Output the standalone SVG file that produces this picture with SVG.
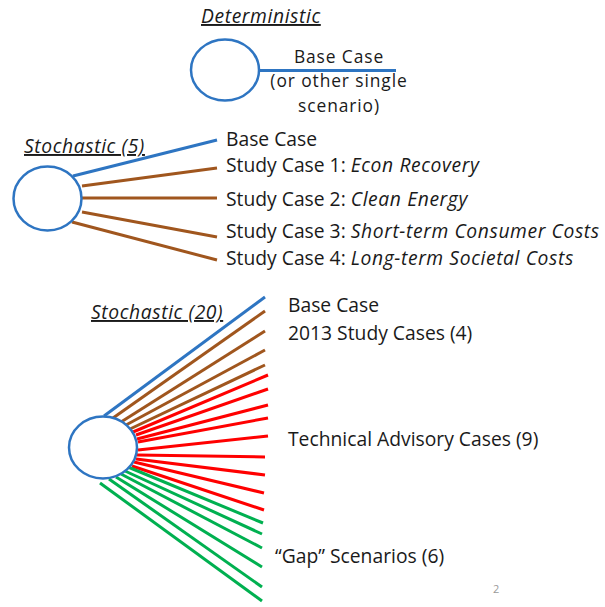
<svg xmlns="http://www.w3.org/2000/svg" width="605" height="607" viewBox="0 0 605 607">
  <style>
    .bg { fill: #ffffff; }
    .node { fill: #ffffff; stroke: #2E75C2; stroke-width: 2.5; }
    .lbl { font-family: "Open Sans", "Liberation Sans", sans-serif; font-size: 19.3px; fill: #1a1a1a; }
    .stack { font-size: 17.4px; letter-spacing: 0.9px; }
    .em { font-style: italic; letter-spacing: 0.6px; }
    .title { font-family: "Open Sans", "Liberation Sans", sans-serif; font-size: 19.3px; font-style: italic; letter-spacing: 0.6px; fill: #1a1a1a; text-decoration: underline; }
    .pg { font-family: "Open Sans", "Liberation Sans", sans-serif; font-size: 11px; fill: #9a9a9a; }
    .c { fill: none; stroke-width: 3; stroke-linecap: butt; }
    .blue { stroke: #2E75C2; }
    .brown { stroke: #A0561E; }
    .red { stroke: #FF0000; }
    .green { stroke: #00B050; }
  </style>
  <rect class="bg" x="0" y="0" width="605" height="607"/>

  <!-- connectors -->
  <g id="connectors">
    <!-- deterministic -->
    <line class="c blue" x1="259" y1="70.5" x2="396" y2="70.5"/>
    <!-- stochastic (5) -->
    <line class="c blue" x1="73" y1="176" x2="217" y2="140"/>
    <line class="c brown" x1="82" y1="186" x2="217" y2="168"/>
    <line class="c brown" x1="82" y1="198" x2="217" y2="198"/>
    <line class="c brown" x1="82" y1="212" x2="217" y2="237"/>
    <line class="c brown" x1="72" y1="222" x2="217" y2="260"/>
    <!-- stochastic (20) -->
    <line class="c blue" x1="104" y1="416" x2="265" y2="297"/>
    <line class="c brown" x1="113" y1="418" x2="265" y2="311"/>
    <line class="c brown" x1="121" y1="422" x2="265" y2="331"/>
    <line class="c brown" x1="126" y1="425" x2="265" y2="350"/>
    <line class="c brown" x1="130" y1="429" x2="265" y2="365"/>
    <line class="c red" x1="133" y1="432" x2="268" y2="375"/>
    <line class="c red" x1="136" y1="435" x2="268" y2="389"/>
    <line class="c red" x1="137" y1="439" x2="268" y2="405"/>
    <line class="c red" x1="138" y1="442" x2="268" y2="418"/>
    <line class="c red" x1="138" y1="450" x2="268" y2="436"/>
    <line class="c red" x1="137" y1="455" x2="265" y2="457"/>
    <line class="c red" x1="136" y1="459" x2="265" y2="475"/>
    <line class="c red" x1="134" y1="462" x2="264" y2="493"/>
    <line class="c red" x1="132" y1="466" x2="264" y2="510"/>
    <line class="c green" x1="128" y1="467" x2="263" y2="523"/>
    <line class="c green" x1="125" y1="471" x2="262" y2="534"/>
    <line class="c green" x1="121" y1="474" x2="262" y2="548"/>
    <line class="c green" x1="116" y1="477" x2="262" y2="567"/>
    <line class="c green" x1="109" y1="479" x2="262" y2="587"/>
    <line class="c green" x1="100" y1="483" x2="262" y2="601"/>
  </g>

  <!-- deterministic model -->
  <g id="deterministic">
    <text class="title" x="201" y="23">Deterministic</text>
    <ellipse class="node" cx="225" cy="70" rx="34" ry="30.5"/>
    <text class="lbl stack" x="339" y="62.5" text-anchor="middle">Base Case</text>
    <text class="lbl stack" x="339" y="87" text-anchor="middle">(or other single</text>
    <text class="lbl stack" x="339" y="111.5" text-anchor="middle">scenario)</text>
  </g>

  <!-- stochastic model, 5 cases -->
  <g id="stochastic-5">
    <text class="title" x="24" y="153">Stochastic (5)</text>
    <ellipse class="node" cx="47.5" cy="198.5" rx="34" ry="32"/>
    <text class="lbl" x="226" y="146">Base Case</text>
    <text class="lbl" x="226" y="172">Study Case 1: <tspan class="em">Econ Recovery</tspan></text>
    <text class="lbl" x="226" y="205.5">Study Case 2: <tspan class="em">Clean Energy</tspan></text>
    <text class="lbl" x="226" y="237.5">Study Case 3: <tspan class="em">Short-term Consumer Costs</tspan></text>
    <text class="lbl" x="226" y="265">Study Case 4: <tspan class="em">Long-term Societal Costs</tspan></text>
  </g>

  <!-- stochastic model, 20 cases -->
  <g id="stochastic-20">
    <text class="title" x="91" y="319">Stochastic (20)</text>
    <ellipse class="node" cx="103" cy="447.5" rx="34" ry="31"/>
    <text class="lbl" x="288" y="312">Base Case</text>
    <text class="lbl" x="288" y="340">2013 Study Cases (4)</text>
    <text class="lbl" x="288" y="446">Technical Advisory Cases (9)</text>
    <text class="lbl" x="275" y="563">“Gap” Scenarios (6)</text>
  </g>

  <!-- page number -->
  <text class="pg" x="493" y="593">2</text>
</svg>
